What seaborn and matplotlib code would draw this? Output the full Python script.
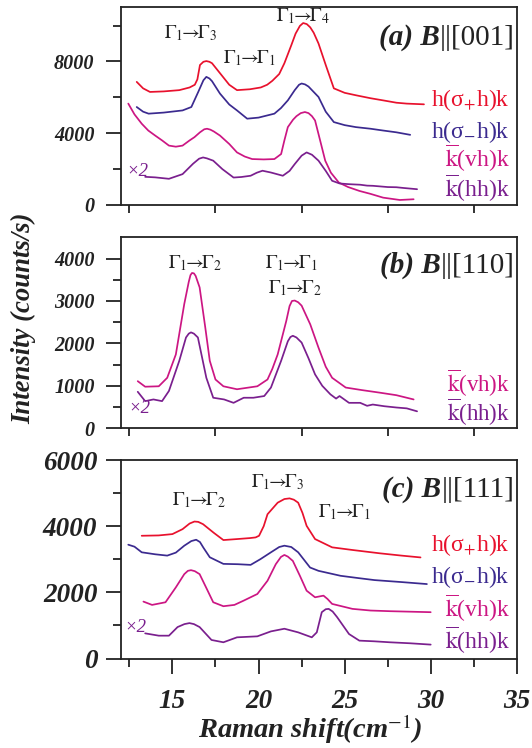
import matplotlib
matplotlib.use("Agg")
import matplotlib.pyplot as plt
import numpy as np
import pandas as pd
import seaborn as sns

# ---------------- data: Raman shift (cm^-1) and intensity (counts/s) ----------------
# (a) B || [001]
a_sp_x = [12.93, 13.3, 13.7, 14.5, 15.4, 16.0, 16.3, 16.45, 16.6, 16.8, 16.97, 17.15, 17.3, 17.8, 18.3,
          18.75, 19.5, 20.13, 20.5, 20.8, 21.2, 21.5, 21.9, 22.15, 22.4, 22.59, 22.8, 23.0, 23.2, 23.48,
          23.9, 24.37, 25.0, 25.65, 26.5, 27.23, 28.0, 28.6, 29.6]
a_sp_y = [6860, 6500, 6300, 6330, 6400, 6550, 6700, 7000, 7800, 7980, 8020, 7980, 7900, 7300, 6700,
          6400, 6450, 6550, 6700, 6920, 7300, 7900, 8900, 9550, 9980, 10140, 10080, 9900, 9600, 9000,
          7800, 6500, 6250, 6115, 5950, 5830, 5700, 5650, 5610]
a_sm_x = [12.93, 13.3, 13.62, 14.5, 15.59, 16.1, 16.5, 16.8, 16.97, 17.15, 17.3, 17.76, 18.3, 18.75,
          19.34, 20.0, 20.92, 21.3, 21.7, 22.1, 22.35, 22.5, 22.7, 22.9, 23.48, 23.9, 24.37, 25.0,
          25.65, 26.5, 27.23, 28.0, 28.8]
a_sm_y = [5460, 5200, 5090, 5150, 5270, 5460, 6300, 6950, 7140, 7050, 6900, 6210, 5600, 5270,
          4810, 4870, 5090, 5400, 5830, 6400, 6700, 6770, 6720, 6600, 6020, 5200, 4620, 4450,
          4340, 4250, 4150, 4050, 3910]
a_vh_x = [12.44, 12.8, 13.22, 13.6, 14.0, 14.4, 14.8, 15.2, 15.59, 16.0, 16.28, 16.6, 16.85, 17.01,
          17.2, 17.4, 17.76, 18.3, 18.75, 19.2, 19.63, 20.3, 20.92, 21.31, 21.5, 21.7, 22.0, 22.2,
          22.45, 22.69, 22.9, 23.1, 23.28, 23.6, 23.87, 24.2, 24.66, 25.2, 25.85, 26.5, 27.23, 28.2, 29.0]
a_vh_y = [5650, 5050, 4530, 4150, 3870, 3600, 3310, 3250, 3310, 3600, 3780, 4050, 4220, 4250,
          4200, 4100, 3870, 3400, 2930, 2700, 2560, 2540, 2560, 2840, 3600, 4340, 4750, 4950,
          5120, 5180, 5120, 4950, 4710, 3500, 2470, 1800, 1250, 1000, 785, 620, 410, 280, 320]
a_hh_x = [13.42, 14.0, 14.8, 15.59, 16.2, 16.55, 16.78, 17.0, 17.37, 17.9, 18.55, 19.0, 19.54, 19.9,
          20.23, 20.72, 21.41, 21.8, 22.1, 22.5, 22.79, 23.1, 23.48, 23.9, 24.27, 24.7, 25.25, 25.9,
          26.3, 26.63, 27.5, 28.0, 28.4, 29.2]
a_hh_y = [1570, 1540, 1460, 1720, 2300, 2580, 2650, 2600, 2470, 2000, 1530, 1560, 1630, 1800,
          1910, 1810, 1630, 1900, 2280, 2750, 2930, 2800, 2470, 1900, 1350, 1200, 1160, 1130,
          1080, 1070, 1000, 990, 950, 880]

# (b) B || [110]
b_vh_x = [12.99, 13.42, 14.21, 14.7, 15.2, 15.69, 15.95, 16.05, 16.14, 16.25, 16.35, 16.58, 16.9, 17.17,
          17.5, 17.96, 18.75, 19.93, 20.52, 20.8, 21.11, 21.61, 21.8, 21.94, 22.1, 22.3, 22.5, 23.0,
          23.48, 23.9, 24.27, 25.06, 26.0, 27.03, 28.0, 29.0]
b_vh_y = [1110, 980, 990, 1190, 1740, 2930, 3450, 3610, 3660, 3650, 3590, 3320, 2400, 1590,
          1150, 990, 920, 990, 1150, 1400, 1740, 2530, 2880, 3000, 3010, 2970, 2890, 2450,
          1900, 1450, 1190, 960, 900, 840, 780, 680]
b_hh_x = [12.99, 13.42, 13.9, 14.4, 14.8, 15.4, 15.79, 15.95, 16.08, 16.25, 16.48, 16.97, 17.37, 18.0,
          18.55, 19.14, 19.7, 20.33, 20.72, 21.31, 21.7, 21.85, 21.99, 22.2, 22.5, 22.9, 23.28, 23.7,
          24.17, 24.5, 24.7, 25.25, 25.9, 26.3, 26.63, 27.3, 28.0, 28.6, 29.2]
b_hh_y = [860, 640, 680, 640, 880, 1590, 2140, 2230, 2260, 2230, 2140, 1190, 720, 680,
          600, 720, 720, 760, 960, 1590, 2050, 2150, 2180, 2140, 2020, 1650, 1270, 1000,
          800, 700, 760, 600, 600, 530, 560, 520, 490, 470, 400]

# (c) B || [111]
c_sp_x = [13.22, 14.2, 15.0, 15.59, 16.0, 16.28, 16.5, 16.78, 17.4, 17.96, 18.75, 19.5, 19.83, 20.03,
          20.3, 20.52, 21.11, 21.5, 21.8, 22.05, 22.3, 22.55, 22.79, 23.28, 24.27, 25.45, 27.03, 28.3, 29.4]
c_sp_y = [3710, 3720, 3760, 3910, 4080, 4140, 4130, 4060, 3800, 3580, 3610, 3640, 3660, 3710,
          4000, 4360, 4710, 4820, 4840, 4800, 4710, 4400, 4010, 3610, 3360, 3280, 3180, 3110, 3055]
c_sm_x = [12.44, 12.8, 13.22, 14.0, 14.7, 15.2, 15.69, 16.1, 16.38, 16.6, 16.8, 17.17, 17.96, 18.8,
          19.54, 20.1, 20.72, 21.2, 21.5, 21.9, 22.3, 22.99, 23.48, 24.76, 25.8, 26.73, 28.3, 29.77]
c_sm_y = [3440, 3380, 3210, 3150, 3110, 3200, 3410, 3550, 3590, 3520, 3350, 3060, 2860, 2850,
          2830, 3000, 3210, 3370, 3410, 3370, 3210, 2750, 2650, 2500, 2430, 2370, 2310, 2250]
c_vh_x = [13.32, 13.82, 14.6, 15.2, 15.69, 15.9, 16.08, 16.3, 16.58, 17.0, 17.37, 17.96, 18.6, 19.14,
          19.93, 20.52, 21.0, 21.3, 21.5, 21.7, 21.99, 22.4, 22.79, 23.28, 23.77, 24.0, 24.27, 25.45,
          26.5, 27.62, 29.99]
c_vh_y = [1720, 1620, 1700, 2150, 2550, 2650, 2670, 2640, 2550, 2100, 1700, 1580, 1620, 1750,
          1950, 2350, 2850, 3070, 3130, 3080, 2950, 2500, 2050, 1850, 1900, 1800, 1650, 1500,
          1450, 1430, 1400]
c_hh_x = [13.42, 14.21, 14.8, 15.3, 15.7, 15.99, 16.25, 16.58, 17.27, 17.96, 18.75, 19.93, 20.72, 21.5,
          22.3, 23.09, 23.38, 23.67, 23.9, 24.07, 24.3, 24.56, 25.25, 25.85, 26.7, 27.62, 28.8, 29.99]
c_hh_y = [760, 690, 690, 950, 1040, 1070, 1040, 950, 560, 490, 640, 670, 820, 900,
          790, 640, 790, 1400, 1490, 1500, 1420, 1250, 740, 540, 520, 490, 460, 420]

# curve labels
lab_sp = r"h(σ$_{+}$h)k"
lab_sm = r"h(σ$_{-}$h)k"
lab_vh = r"$\overline{\mathrm{k}}$(vh)k"
lab_hh = r"$\overline{\mathrm{k}}$(hh)k"

# ---------------- style ----------------
sns.set_theme(style="ticks")
SERIF = ["Liberation Serif", "DejaVu Serif"]
plt.rcParams["font.family"] = SERIF
plt.rcParams["mathtext.fontset"] = "stix"
plt.rcParams["axes.linewidth"] = 1.3
plt.rcParams["axes.edgecolor"] = "#222222"

C_SP = "#e8112d"
C_SM = "#3b2a8f"
C_VH = "#cc1683"
C_HH = "#7a1f8e"
palette = {lab_sp: C_SP, lab_sm: C_SM, lab_vh: C_VH, lab_hh: C_HH}

W, H = 532, 748
fig = plt.figure(figsize=(W / 100, H / 100), dpi=100)


def frame(top_px, bot_px):
    left, right = 120.7, 517.0
    return fig.add_axes([left / W, 1 - bot_px / H, (right - left) / W, (bot_px - top_px) / H])


def curves(ax, series):
    rows = []
    for lab, xs, ys in series:
        rows.append(pd.DataFrame({"shift": xs, "intensity": ys, "config": lab}))
    df = pd.concat(rows, ignore_index=True)
    sns.lineplot(data=df, x="shift", y="intensity", hue="config", palette=palette,
                 estimator=None, sort=False, legend=False, linewidth=1.25, ax=ax)
    ax.set_xlabel("")
    ax.set_ylabel("")


def style_axes(ax, ymax, ymaj, ymin_step, ylab_size, ylab_pad, bottom_labels):
    ax.set_xlim(12, 35)
    ax.set_ylim(0, ymax)
    for s in ax.spines.values():
        s.set_visible(True)
    yt = np.arange(0, ymax + 1, ymaj)
    ax.set_yticks(yt, labels=[f"{int(v)}" for v in yt], fontsize=ylab_size,
                  fontweight="bold", fontstyle="italic")
    ax.set_yticks([v for v in np.arange(0, ymax, ymin_step) if v % ymaj != 0], minor=True)
    ax.tick_params(axis="y", which="major", direction="out", length=10.8, width=1.3,
                   pad=ylab_pad, colors="#222222", labelcolor="#222222")
    ax.tick_params(axis="y", which="minor", direction="out", length=5.8, width=1.3,
                   colors="#222222")
    if bottom_labels:
        ax.set_xticks([15, 20, 25, 30, 35], labels=["15", "20", "25", "30", "35"], fontsize=19.5,
                      fontweight="bold", fontstyle="italic")
        ax.set_xticks([12.5, 17.5, 22.5, 27.5, 32.5], minor=True)
        ax.tick_params(axis="x", which="major", direction="out", length=10.8, width=1.3,
                       pad=11, colors="#222222", labelcolor="#222222")
        ax.tick_params(axis="x", which="minor", direction="out", length=5.5, width=1.3,
                       colors="#222222")
    else:
        ax.set_xticks([12.5, 17.5, 22.5, 27.5, 32.5], labels=[])
        ax.tick_params(axis="x", which="major", direction="out", length=5.5, width=1.3,
                       colors="#222222")
        ax.set_xticks([], minor=True)


def panel_title(ax, tag, direction, y):
    t = ax.text(0.993, y, f"||[{direction}]", transform=ax.transAxes, ha="right", va="bottom",
                fontsize=21, color="#222222")
    ax.annotate(f"({tag}) B", xy=(0, 0), xycoords=t, ha="right", va="bottom", fontsize=21,
                fontweight="bold", fontstyle="italic", color="#222222")


def trans(ax, x, y, lo, hi, size=14):
    ax.text(x, y, rf"$\Gamma_{{{lo}}}\!\!\rightarrow\!\!\Gamma_{{{hi}}}$", ha="center",
            va="center", fontsize=size, color="#222222")


def side_labels(ax, items, size=17):
    for lab, y, col in items:
        ax.text(34.6, y, lab, ha="right", va="center", fontsize=size, color=col)


def times_two(ax, x, y):
    ax.text(x, y, "×2", ha="left", va="center", fontsize=13.5, color=C_HH, fontstyle="italic")


# ---------------- (a) ----------------
ax_a = frame(6.7, 205.0)
curves(ax_a, [(lab_sp, a_sp_x, a_sp_y), (lab_sm, a_sm_x, a_sm_y),
              (lab_vh, a_vh_x, a_vh_y), (lab_hh, a_hh_x, a_hh_y)])
style_axes(ax_a, 11050, 4000, 2000, 14.5, 8, False)
ax_a.set_yticks([2000, 6000, 10000], minor=True)
panel_title(ax_a, "a", "001", 0.775)
trans(ax_a, 16.08, 9585, 1, 3)
trans(ax_a, 19.5, 8191, 1, 1)
trans(ax_a, 22.57, 10532, 1, 4)
side_labels(ax_a, [(lab_sp, 5851, C_SP), (lab_sm, 4068, C_SM),
                   (lab_vh, 2619, C_VH), (lab_hh, 947, C_HH)])
times_two(ax_a, 12.31, 1839)

# ---------------- (b) ----------------
ax_b = frame(237.3, 428.3)
curves(ax_b, [(lab_vh, b_vh_x, b_vh_y), (lab_hh, b_hh_x, b_hh_y)])
style_axes(ax_b, 4500, 1000, 500, 14.5, 8, False)
panel_title(ax_b, "b", "110", 0.78)
trans(ax_b, 16.34, 3895, 1, 2)
trans(ax_b, 21.9, 3895, 1, 1)
trans(ax_b, 22.1, 3306, 1, 2)
side_labels(ax_b, [(lab_vh, 1060, C_VH), (lab_hh, 370, C_HH)], size=16.5)
times_two(ax_b, 12.42, 455)

# ---------------- (c) ----------------
ax_c = frame(460.0, 658.5)
curves(ax_c, [(lab_sp, c_sp_x, c_sp_y), (lab_sm, c_sm_x, c_sm_y),
              (lab_vh, c_vh_x, c_vh_y), (lab_hh, c_hh_x, c_hh_y)])
style_axes(ax_c, 6000, 2000, 1000, 19.5, 6, True)
panel_title(ax_c, "c", "111", 0.785)
trans(ax_c, 16.54, 4791, 1, 2)
trans(ax_c, 21.09, 5335, 1, 3)
trans(ax_c, 24.97, 4428, 1, 1)
side_labels(ax_c, [(lab_sp, 3431, C_SP), (lab_sm, 2463, C_SM),
                   (lab_vh, 1526, C_VH), (lab_hh, 559, C_HH)])
times_two(ax_c, 12.19, 922)

# ---------------- shared axis titles ----------------
fig.text(24 / W, 1 - 318 / H, "Intensity (counts/s)", rotation=90, ha="center", va="center",
         fontsize=19.3, fontweight="bold", fontstyle="italic", color="#222222")
fig.text(310 / W, 1 - 729 / H, r"Raman shift(cm$^{\mathit{-1}}$)", ha="center", va="center",
         fontsize=20.5, fontweight="bold", fontstyle="italic", color="#222222")

fig.savefig("out.png", dpi=100)
